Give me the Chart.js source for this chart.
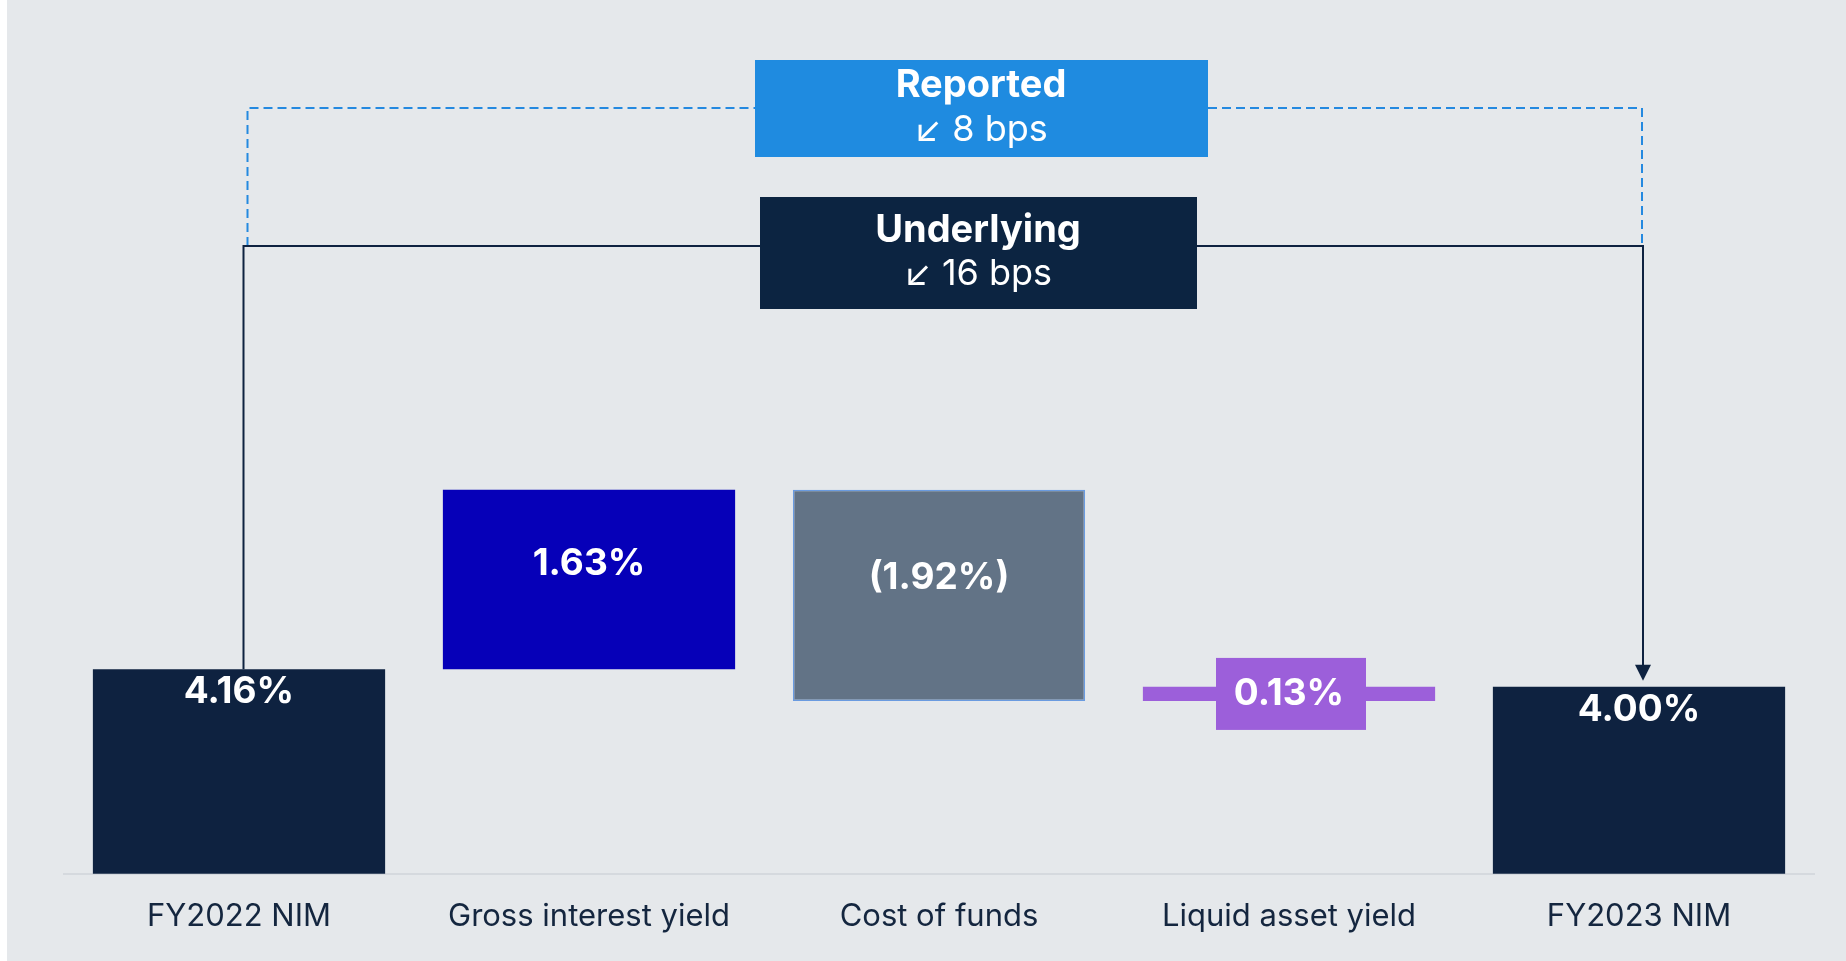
<!DOCTYPE html>
<html>
<head>
<meta charset="utf-8">
<title>NIM bridge FY2022 to FY2023</title>
<script src="https://cdn.jsdelivr.net/npm/chart.js@4/dist/chart.umd.min.js"></script>
<style>
  html, body { margin: 0; padding: 0; background: #ffffff; }
  #wrap { position: relative; width: 1846px; height: 961px; }
</style>
</head>
<body>
<div id="wrap"><canvas id="nimChart" width="1846" height="961"></canvas></div>
<script>
// bridge data (percent)
const categories = ["FY2022 NIM", "Gross interest yield", "Cost of funds", "Liquid asset yield", "FY2023 NIM"];
const steps = [4.16, 1.63, -1.92, 0.13, 4.00];
const isTotal = [true, false, false, false, true];
const valueLabels = ["4.16%", "1.63%", "(1.92%)", "0.13%", "4.00%"];
const barColors = ["#0e2240", "#0600b8", "#627386", "#9c5fda", "#0e2240"];

const reportedText = ["Reported", "\u2199 8 bps"];
const underlyingText = ["Underlying", "\u2199 16 bps"];

// build waterfall ranges: totals are plain values, moves float from running level
let running = 0;
const barData = steps.map((v, i) => {
  if (isTotal[i]) {
    running = v;
    return v;
  }
  const start = running;
  running = +(running + v).toFixed(2);
  return [start, running];
});

const FONT = "Inter, 'Noto Sans', sans-serif";

const bgPlugin = {
  id: "panelBg",
  beforeDraw(chart) {
    const ctx = chart.ctx;
    ctx.save();
    ctx.fillStyle = "#e5e8eb";
    ctx.fillRect(7, 0, chart.width - 7, chart.height);
    ctx.restore();
  },
};

function barBox(chart, i) {
  const el = chart.getDatasetMeta(0).data[i];
  const top = Math.min(el.y, el.base);
  const bottom = Math.max(el.y, el.base);
  return { x: el.x, top, bottom, h: bottom - top };
}

const labelPlugin = {
  id: "barLabels",
  afterDatasetsDraw(chart) {
    const ctx = chart.ctx;
    ctx.save();
    ctx.textAlign = "center";
    ctx.textBaseline = "middle";
    valueLabels.forEach((txt, i) => {
      const b = barBox(chart, i);
      let y;
      if (isTotal[i]) {
        y = b.top + 23;
      } else if (b.h < 40) {
        // thin bar: label sits in a badge
        y = (b.top + b.bottom) / 2;
        ctx.fillStyle = barColors[i];
        ctx.fillRect(b.x - 73, y - 36, 150, 72);
      } else {
        y = b.top + b.h * 0.415;
      }
      ctx.fillStyle = "#ffffff";
      ctx.font = "700 37px " + FONT;
      ctx.fillText(txt, b.x, y);
    });
    ctx.restore();
  },
};

const bracketPlugin = {
  id: "brackets",
  afterDraw(chart) {
    const ctx = chart.ctx;
    const first = barBox(chart, 0);
    const last = barBox(chart, categories.length - 1);
    const lineY = 246;
    const dashY = 108;
    ctx.save();

    // reported: dashed blue
    ctx.strokeStyle = "#2489e0";
    ctx.lineWidth = 2;
    ctx.setLineDash([9, 5]);
    ctx.beginPath();
    ctx.moveTo(first.x + 8.5, lineY);
    ctx.lineTo(first.x + 8.5, dashY);
    ctx.lineTo(755, dashY);
    ctx.moveTo(1208, dashY);
    ctx.lineTo(last.x + 3, dashY);
    ctx.lineTo(last.x + 3, lineY);
    ctx.stroke();

    // underlying: solid navy with arrow
    ctx.setLineDash([]);
    ctx.strokeStyle = "#0e2240";
    ctx.lineWidth = 2;
    ctx.beginPath();
    ctx.moveTo(first.x + 4.5, first.top);
    ctx.lineTo(first.x + 4.5, lineY);
    ctx.lineTo(last.x + 4, lineY);
    ctx.lineTo(last.x + 4, last.top - 20);
    ctx.stroke();
    ctx.fillStyle = "#0e2240";
    ctx.beginPath();
    ctx.moveTo(last.x + 4 - 8, last.top - 22);
    ctx.lineTo(last.x + 4 + 8, last.top - 22);
    ctx.lineTo(last.x + 4, last.top - 6);
    ctx.closePath();
    ctx.fill();

    // boxes
    ctx.textAlign = "center";
    ctx.textBaseline = "middle";
    ctx.fillStyle = "#1f8be0";
    ctx.fillRect(755, 60, 453, 97);
    ctx.fillStyle = "#ffffff";
    ctx.font = "700 38px " + FONT;
    ctx.fillText(reportedText[0], 981, 86);
    ctx.font = "400 36px " + FONT;
    ctx.fillText(reportedText[1], 981, 130);

    ctx.fillStyle = "#0c2441";
    ctx.fillRect(760, 197, 437, 112);
    ctx.fillStyle = "#ffffff";
    ctx.font = "700 38px " + FONT;
    ctx.fillText(underlyingText[0], 978, 231);
    ctx.font = "400 36px " + FONT;
    ctx.fillText(underlyingText[1], 978, 274);
    ctx.restore();
  },
};

const ctx = document.getElementById("nimChart").getContext("2d");
// eslint-disable-next-line no-new
new Chart(ctx, {
  type: "bar",
  data: {
    labels: categories,
    datasets: [
      {
        data: barData,
        backgroundColor: barColors,
        borderColor: barColors.map((c, i) => (i === 2 ? "#6a9be0" : c)),
        borderWidth: barColors.map((c, i) => (i === 2 ? 1.5 : 0)),
        borderSkipped: false,
        categoryPercentage: 1,
        barPercentage: 0.835,
      },
    ],
  },
  options: {
    responsive: false,
    animation: false,
    layout: { padding: { left: 64, right: 32, top: 327, bottom: 2 } },
    plugins: {
      legend: { display: false },
      tooltip: { enabled: false },
    },
    scales: {
      x: {
        grid: { display: false, drawTicks: false },
        border: { display: true, color: "#d5d9de", width: 2 },
        ticks: {
          color: "#14263f",
          padding: 24,
          font: { family: FONT, size: 31, weight: "400" },
        },
      },
      y: {
        display: false,
        min: 2.3,
        max: 7.27,
      },
    },
  },
  plugins: [bgPlugin, labelPlugin, bracketPlugin],
});
</script>
</body>
</html>
